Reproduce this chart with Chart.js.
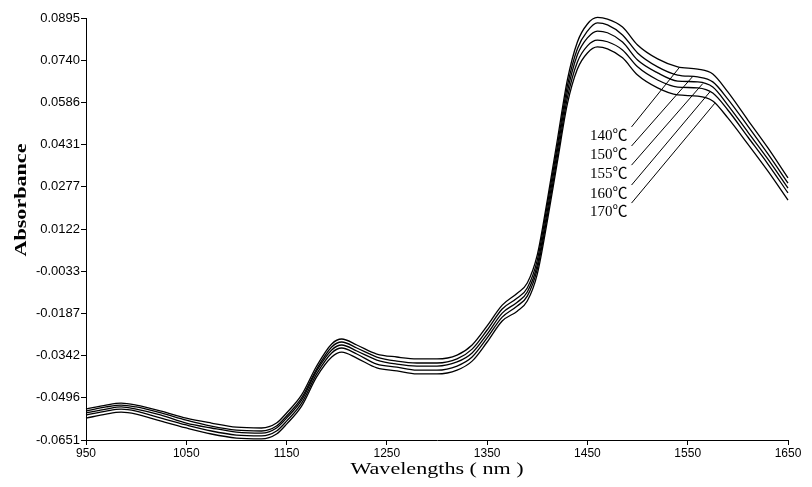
<!DOCTYPE html>
<html>
<head>
<meta charset="utf-8">
<script src="https://cdn.jsdelivr.net/npm/chart.js@4/dist/chart.umd.min.js"></script>
<style>
  html, body { margin: 0; padding: 0; background: #fff; }
</style>
</head>
<body>
<canvas id="spectra" width="812" height="487"></canvas>
<script>
// wavelengths (nm)
const wavelengths = [950, 970, 985, 1000, 1025, 1050, 1075, 1100, 1125, 1140, 1150, 1165, 1180, 1195, 1205, 1220, 1240, 1260, 1280, 1300, 1320, 1335, 1350, 1365, 1380, 1390, 1400, 1410, 1420, 1430, 1440, 1450, 1460, 1470, 1485, 1500, 1520, 1540, 1560, 1575, 1590, 1610, 1630, 1650];

// absorbance per temperature
const abs140 = [-0.0538, -0.0523, -0.0516, -0.0523, -0.0545, -0.0571, -0.0589, -0.0604, -0.0607, -0.0589, -0.0552, -0.0486, -0.0380, -0.0299, -0.0281, -0.0303, -0.0336, -0.0347, -0.0354, -0.0354, -0.0340, -0.0303, -0.0233, -0.0157, -0.0113, -0.0076, 0.0027, 0.0228, 0.0448, 0.0668, 0.0807, 0.0873, 0.0897, 0.0891, 0.0862, 0.0796, 0.0745, 0.0716, 0.0708, 0.0690, 0.0624, 0.0521, 0.0419, 0.0309];
const abs150 = [-0.0545, -0.0530, -0.0523, -0.0530, -0.0552, -0.0578, -0.0600, -0.0615, -0.0618, -0.0600, -0.0563, -0.0497, -0.0391, -0.0310, -0.0292, -0.0314, -0.0347, -0.0362, -0.0369, -0.0369, -0.0354, -0.0318, -0.0248, -0.0171, -0.0131, -0.0094, 0.0008, 0.0210, 0.0426, 0.0646, 0.0782, 0.0847, 0.0877, 0.0870, 0.0833, 0.0767, 0.0716, 0.0686, 0.0679, 0.0661, 0.0598, 0.0499, 0.0397, 0.0290];
const abs155 = [-0.0552, -0.0538, -0.0530, -0.0538, -0.0560, -0.0589, -0.0607, -0.0622, -0.0626, -0.0607, -0.0571, -0.0505, -0.0398, -0.0321, -0.0303, -0.0325, -0.0358, -0.0373, -0.0380, -0.0380, -0.0365, -0.0332, -0.0263, -0.0186, -0.0146, -0.0109, -0.0010, 0.0188, 0.0408, 0.0624, 0.0760, 0.0822, 0.0847, 0.0841, 0.0807, 0.0741, 0.0694, 0.0664, 0.0661, 0.0642, 0.0576, 0.0477, 0.0378, 0.0272];
const abs160 = [-0.0560, -0.0545, -0.0538, -0.0545, -0.0571, -0.0596, -0.0618, -0.0633, -0.0636, -0.0618, -0.0582, -0.0516, -0.0409, -0.0332, -0.0314, -0.0336, -0.0373, -0.0384, -0.0395, -0.0395, -0.0380, -0.0347, -0.0277, -0.0201, -0.0160, -0.0124, -0.0025, 0.0170, 0.0386, 0.0602, 0.0734, 0.0793, 0.0814, 0.0808, 0.0778, 0.0716, 0.0668, 0.0642, 0.0639, 0.0620, 0.0558, 0.0459, 0.0360, 0.0254];
const abs170 = [-0.0571, -0.0556, -0.0549, -0.0556, -0.0582, -0.0607, -0.0629, -0.0644, -0.0647, -0.0629, -0.0593, -0.0527, -0.0420, -0.0347, -0.0329, -0.0351, -0.0387, -0.0398, -0.0409, -0.0409, -0.0395, -0.0362, -0.0292, -0.0215, -0.0179, -0.0142, -0.0043, 0.0151, 0.0367, 0.0580, 0.0708, 0.0767, 0.0789, 0.0782, 0.0749, 0.0686, 0.0639, 0.0613, 0.0609, 0.0591, 0.0529, 0.0433, 0.0334, 0.0228];

const tempLabels = ['140℃', '150℃', '155℃', '160℃', '170℃'];
const series = [abs140, abs150, abs155, abs160, abs170];

const yTicks = [0.0895, 0.0740, 0.0586, 0.0431, 0.0277, 0.0122, -0.0033, -0.0187, -0.0342, -0.0496, -0.0651];
const xTicks = [950, 1050, 1150, 1250, 1350, 1450, 1550, 1650];

// where each leader line meets its curve, and where its label sits
const leaderAt = [1542, 1555, 1565, 1572, 1577];
const labelAtX = 1490;
const labelAtY = [0.0463, 0.0393, 0.0323, 0.0250, 0.0184];

function valueAt(arr, w) {
  for (let i = 1; i < wavelengths.length; i++) {
    if (w <= wavelengths[i]) {
      const t = (w - wavelengths[i - 1]) / (wavelengths[i] - wavelengths[i - 1]);
      return arr[i - 1] + t * (arr[i] - arr[i - 1]);
    }
  }
  return arr[arr.length - 1];
}

const labelsPlugin = {
  id: 'leaders',
  afterDatasetsDraw(chart) {
    const { ctx, scales: { x, y } } = chart;
    ctx.save();
    ctx.strokeStyle = '#000';
    ctx.lineWidth = 1;
    ctx.fillStyle = '#000';
    ctx.font = "15px 'Liberation Serif', 'Noto Sans CJK SC', serif";
    ctx.textAlign = 'right';
    ctx.textBaseline = 'middle';
    tempLabels.forEach((lab, i) => {
      const tx = x.getPixelForValue(labelAtX);
      const ty = y.getPixelForValue(labelAtY[i]);
      ctx.fillText(lab, tx, ty);
      const px = x.getPixelForValue(leaderAt[i]);
      const py = y.getPixelForValue(valueAt(series[i], leaderAt[i]));
      ctx.beginPath();
      ctx.moveTo(tx + 4, ty - 9);
      ctx.lineTo(px, py);
      ctx.stroke();
    });
    ctx.restore();
  }
};

const titlesPlugin = {
  id: 'axisTitles',
  afterDraw(chart) {
    const { ctx, chartArea } = chart;
    ctx.save();
    ctx.fillStyle = '#000';
    ctx.textAlign = 'center';
    ctx.textBaseline = 'middle';
    // x title
    ctx.save();
    ctx.translate((chartArea.left + chartArea.right) / 2, 470);
    ctx.scale(1.3, 1);
    ctx.font = "17px 'Liberation Serif', serif";
    ctx.fillText('Wavelengths ( nm )', 0, 0);
    ctx.restore();
    // y title
    ctx.save();
    ctx.translate(22, 200);
    ctx.rotate(-Math.PI / 2);
    ctx.scale(1.3, 1);
    ctx.font = "bold 17px 'Liberation Serif', serif";
    ctx.fillText('Absorbance', 0, 0);
    ctx.restore();
    ctx.restore();
  }
};

const ctx = document.getElementById('spectra').getContext('2d');
const spectraChart = new Chart(ctx, {
  type: 'line',
  data: {
    datasets: series.map((arr, i) => ({
      label: tempLabels[i],
      data: wavelengths.map((w, j) => ({ x: w, y: arr[j] })),
      borderColor: '#000',
      borderWidth: 1.3,
      pointRadius: 0,
      fill: false,
      cubicInterpolationMode: 'monotone',
      clip: false
    }))
  },
  options: {
    responsive: false,
    animation: false,
    devicePixelRatio: 1,
    layout: { padding: { top: 18, right: 24, left: 0, bottom: 0 } },
    plugins: {
      legend: { display: false },
      tooltip: { enabled: false }
    },
    scales: {
      x: {
        type: 'linear',
        min: 950,
        max: 1650,
        afterBuildTicks: s => { s.ticks = xTicks.map(v => ({ value: v })); },
        afterFit: s => { s.height = 47; },
        grid: { drawOnChartArea: false, tickLength: 5, color: '#000' },
        border: { color: '#000', width: 1 },
        ticks: {
          color: '#000',
          padding: 1,
          maxRotation: 0,
          font: { family: "'Liberation Sans Narrow', 'Liberation Sans', sans-serif", size: 12 },
          callback: v => String(v)
        }
      },
      y: {
        min: -0.0651,
        max: 0.0895,
        afterBuildTicks: s => { s.ticks = yTicks.map(v => ({ value: v })); },
        afterFit: s => { s.width = 86; },
        grid: { drawOnChartArea: false, tickLength: 5, color: '#000' },
        border: { color: '#000', width: 1 },
        ticks: {
          color: '#000',
          padding: 1,
          font: { family: "'Liberation Sans', sans-serif", size: 13 },
          callback: v => v.toFixed(4)
        }
      }
    }
  },
  plugins: [labelsPlugin, titlesPlugin]
});
</script>
</body>
</html>
